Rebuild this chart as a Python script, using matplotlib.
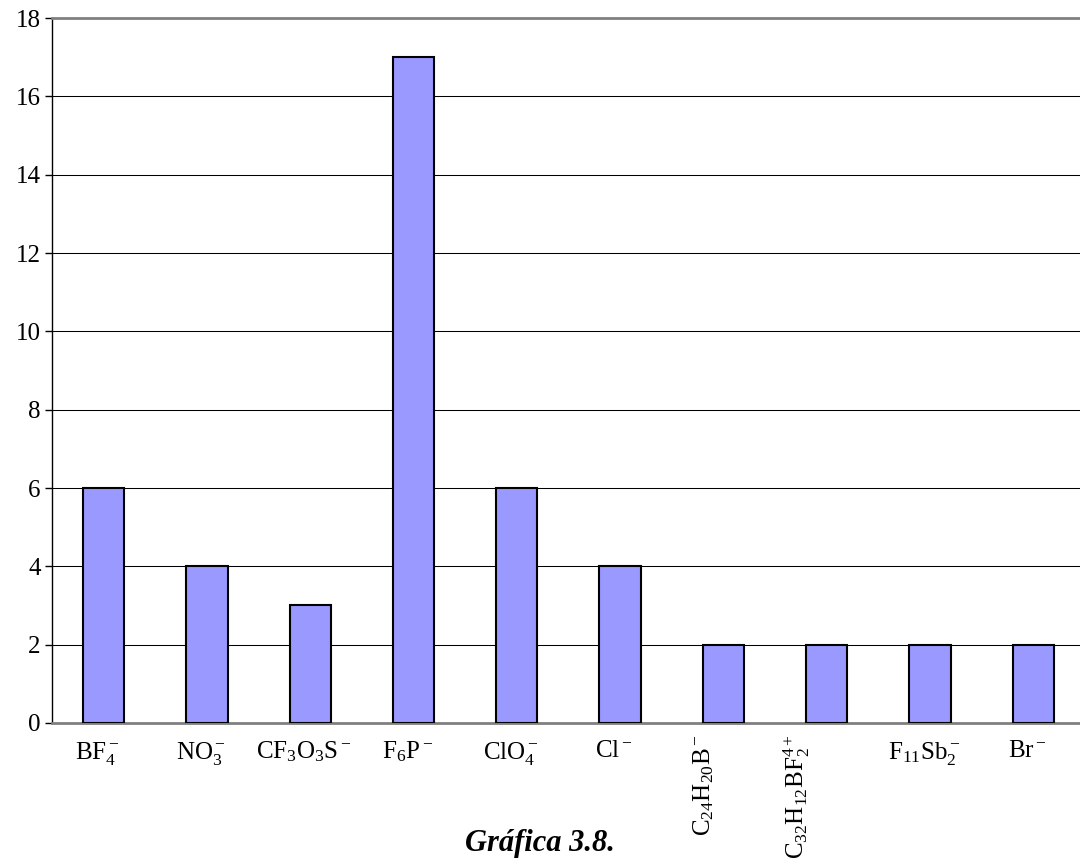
import matplotlib
matplotlib.use('Agg')
import matplotlib.pyplot as plt
import matplotlib.transforms as mtransforms

plt.rcParams['font.family'] = 'Liberation Serif'
plt.rcParams['mathtext.fontset'] = 'custom'
plt.rcParams['mathtext.rm'] = 'Liberation Serif'
plt.rcParams['mathtext.it'] = 'Liberation Serif:italic'
plt.rcParams['mathtext.bf'] = 'Liberation Serif:bold'

# anions and number of compounds
anions = [r'$\mathrm{BF_4^-}$', r'$\mathrm{NO_3^-}$', r'$\mathrm{CF_3O_3S^-}$',
          r'$\mathrm{F_6P^-}$', r'$\mathrm{ClO_4^-}$', r'$\mathrm{Cl^-}$',
          r'$\mathrm{C_{24}H_{20}B^-}$', r'$\mathrm{C_{32}H_{12}BF_2^{4+}}$',
          r'$\mathrm{F_{11}Sb_2^-}$', r'$\mathrm{Br^-}$']
counts = [6, 4, 3, 17, 6, 4, 2, 2, 2, 2]
yticks = [0, 2, 4, 6, 8, 10, 12, 14, 16, 18]

fig = plt.figure(figsize=(10.8, 8.67), dpi=100)
ax = fig.add_axes([0.0481, 0.1661, 0.9565, 0.8131])

x = list(range(len(anions)))
ax.bar(x, counts, width=0.4, color='#9999FF', edgecolor='black', linewidth=1.5, zorder=3)

ax.set_xlim(-0.5, len(anions) - 0.5)
ax.set_ylim(0, 18)
ax.set_yticks(yticks)
ax.set_yticklabels([str(t) for t in yticks], fontsize=18)
for t in yticks[1:-1]:
    ax.axhline(t, color='black', linewidth=0.75, zorder=1)

ax.spines['top'].set_color('#808080')
ax.spines['top'].set_linewidth(2)
ax.spines['bottom'].set_color('#808080')
ax.spines['bottom'].set_linewidth(2)
ax.spines['left'].set_linewidth(1)
ax.spines['right'].set_visible(False)
ax.tick_params(axis='y', direction='out', length=5, width=1, pad=3)
ax.tick_params(axis='x', length=0, pad=12)

ax.set_xticks(x)
ax.set_xticklabels(anions, fontsize=18)
for i, lab in enumerate(ax.get_xticklabels()):
    if i in (6, 7):
        lab.set_rotation(90)
        lab.set_va('top')
        lab.set_ha('center')
        dx = -20 if i == 6 else -30
        lab.set_transform(lab.get_transform() +
                          mtransforms.ScaledTranslation(dx / 100, 5 / 100, fig.dpi_scale_trans))
    else:
        lab.set_transform(lab.get_transform() +
                          mtransforms.ScaledTranslation(-6 / 100, 0, fig.dpi_scale_trans))

fig.text(0.5, 0.027, 'Gráfica 3.8.', fontsize=22, fontweight='bold', fontstyle='italic',
         ha='center', va='center')

fig.savefig('out.png', dpi=100)
